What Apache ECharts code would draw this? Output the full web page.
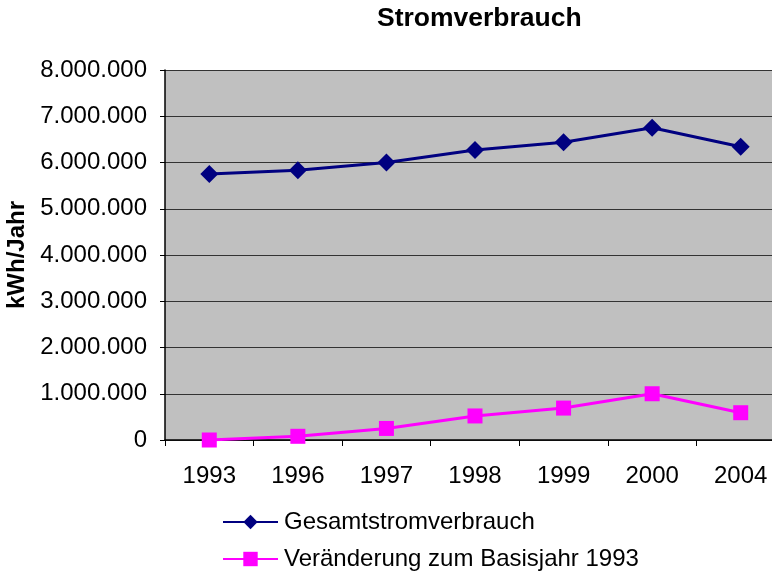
<!DOCTYPE html>
<html>
<head>
<meta charset="utf-8">
<script src="https://cdn.jsdelivr.net/npm/echarts@6/dist/echarts.min.js"></script>
<style>
  html, body { margin: 0; padding: 0; background: #fff; overflow: hidden; }
  /* plot area runs past the right edge of the window, as in the original */
  #chart { width: 785px; height: 572px; }
</style>
</head>
<body>
<div id="chart"></div>
<script>
// Stromverbrauch 1993 - 2004
var jahre = ['1993', '1996', '1997', '1998', '1999', '2000', '2004'];
var gesamt = [5750000, 5830000, 6000000, 6270000, 6440000, 6750000, 6340000];
var veraenderung = [0, 80000, 250000, 520000, 690000, 1000000, 590000];
var yTicks = [0, 1000000, 2000000, 3000000, 4000000, 5000000, 6000000, 7000000, 8000000];

var font = 'Liberation Sans, Arial, sans-serif';

// 1000000 -> "1.000.000"
function punkte(v) {
  return String(v).replace(/\B(?=(\d{3})+(?!\d))/g, '.');
}

var chart = echarts.init(document.getElementById('chart'), null, { renderer: 'canvas' });

var option = {
  backgroundColor: '#fff',
  animation: false,
  title: {
    text: 'Stromverbrauch',
    left: 377,
    top: 5,
    padding: 0,
    textStyle: { fontFamily: font, fontSize: 26.5, fontWeight: 'bold', color: '#000' }
  },
  legend: {
    orient: 'vertical',
    left: 222,
    top: 510,
    padding: 0,
    itemWidth: 55,
    itemHeight: 18,
    itemGap: 13,
    data: ['Gesamtstromverbrauch', 'Veränderung zum Basisjahr 1993'],
    textStyle: { fontFamily: font, fontSize: 24, color: '#000', lineHeight: 24, padding: [0, 0, 0, 1] }
  },
  grid: {
    show: true,
    backgroundColor: '#c0c0c0',
    borderWidth: 0,
    left: 165,
    right: 0,
    top: 70,
    bottom: 132,
    containLabel: false,
    outerBoundsMode: 'none'
  },
  xAxis: {
    type: 'category',
    data: jahre,
    boundaryGap: true,
    axisLine: { show: true, lineStyle: { color: '#000', width: 1.5 } },
    axisTick: { show: true, length: 6, lineStyle: { color: '#000', width: 1 } },
    axisLabel: { fontFamily: font, fontSize: 24, color: '#000', margin: 24 },
    splitLine: { show: false }
  },
  yAxis: {
    type: 'value',
    min: yTicks[0],
    max: yTicks[yTicks.length - 1],
    interval: yTicks[1] - yTicks[0],
    name: 'kWh/Jahr',
    nameLocation: 'middle',
    nameRotate: 90,
    nameGap: 136,
    nameTextStyle: { fontFamily: font, fontSize: 24, fontWeight: 'bold', color: '#000' },
    axisLine: { show: true, lineStyle: { color: '#000', width: 1.5 } },
    axisTick: { show: true, inside: false, length: 5, lineStyle: { color: '#000' } },
    axisLabel: {
      fontFamily: font, fontSize: 24, color: '#000', margin: 18,
      formatter: function (v) { return punkte(v); }
    },
    splitLine: { show: true, lineStyle: { color: '#333', width: 1 } }
  },
  series: [
    {
      name: 'Gesamtstromverbrauch',
      type: 'line',
      data: gesamt,
      symbol: 'diamond',
      symbolSize: 18,
      lineStyle: { color: '#000080', width: 3 },
      itemStyle: { color: '#000080' },
      z: 3
    },
    {
      name: 'Veränderung zum Basisjahr 1993',
      type: 'line',
      data: veraenderung,
      symbol: 'rect',
      symbolSize: 15,
      lineStyle: { color: '#ff00ff', width: 3 },
      itemStyle: { color: '#ff00ff' },
      z: 3
    }
  ]
};

chart.setOption(option);
</script>
</body>
</html>
